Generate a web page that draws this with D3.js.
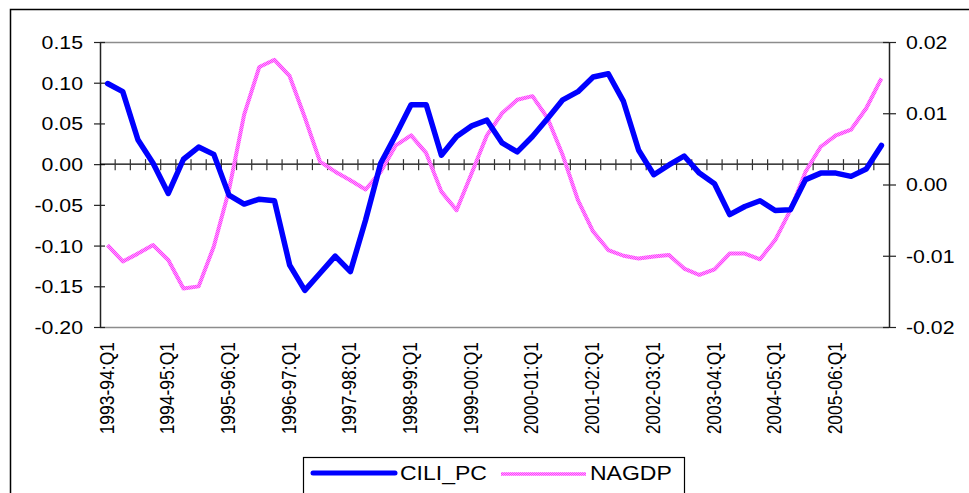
<!DOCTYPE html>
<html><head><meta charset="utf-8">
<script src="https://cdn.jsdelivr.net/npm/d3@7"></script>
<style>
body{margin:0;background:#fff}
svg{display:block}
text{font-family:Arial,"Liberation Sans",sans-serif;fill:#000}
</style>
</head><body>
<svg id="chart" width="969" height="493"></svg>
<script>
// Fiscal years and quarters making up the category axis
const years = ["1993-94","1994-95","1995-96","1996-97","1997-98","1998-99","1999-00",
               "2000-01","2001-02","2002-03","2003-04","2004-05","2005-06"];
const quarters = ["Q1","Q2","Q3","Q4"];
const categories = years.flatMap(y => quarters.map(q => `${y}:${q}`));

// Labelled categories (first quarter of each year)
const xTickLabels = years.map(y => `${y}:Q1`);

// CILI_PC (left axis)
const ciliPc = [0.099, 0.089, 0.030, 0.001, -0.036, 0.006, 0.021, 0.012, -0.038, -0.049,
                -0.043, -0.045, -0.124, -0.155, -0.134, -0.113, -0.132, -0.069, 0.001, 0.036,
                0.073, 0.073, 0.011, 0.034, 0.047, 0.054, 0.026, 0.015, 0.034, 0.056,
                0.079, 0.089, 0.107, 0.111, 0.077, 0.017, -0.013, -0.001, 0.010, -0.011,
                -0.024, -0.062, -0.052, -0.045, -0.057, -0.056, -0.019, -0.011, -0.011, -0.015,
                -0.006, 0.023];

// NAGDP (right axis)
const nagdp = [-0.0085, -0.0108, -0.0097, -0.0085, -0.0106, -0.0146, -0.0143, -0.0087, -0.0008, 0.0098,
               0.0165, 0.0175, 0.0152, 0.0094, 0.0032, 0.0018, 0.0006, -0.0007, 0.0018, 0.0055,
               0.0069, 0.0044, -0.0010, -0.0036, 0.0016, 0.0069, 0.0100, 0.0119, 0.0124, 0.0093,
               0.0041, -0.0022, -0.0066, -0.0092, -0.0100, -0.0104, -0.0101, -0.0099, -0.0118, -0.0127,
               -0.0119, -0.0097, -0.0097, -0.0105, -0.0078, -0.0036, 0.0018, 0.0053, 0.0069, 0.0077,
               0.0107, 0.0149];

const leftTicks = [0.15, 0.10, 0.05, 0.00, -0.05, -0.10, -0.15, -0.20];
const rightTicks = [0.02, 0.01, 0.00, -0.01, -0.02];
const seriesNames = ["CILI_PC", "NAGDP"];

const svg = d3.select("#chart");
const plot = {left: 100, right: 889, top: 42, bottom: 327};
const sx = 1.15; // horizontal text stretch
const fmt = d => d3.format(".2f")(d).replace("\u2212", "-");

const defs = svg.append("defs");
const pat = defs.append("pattern").attr("id", "pinkDither")
  .attr("patternUnits", "userSpaceOnUse").attr("width", 2).attr("height", 2);
pat.append("rect").attr("width", 2).attr("height", 2).attr("fill", "#ffa0ff");
pat.append("rect").attr("width", 1).attr("height", 1).attr("fill", "#ff3cff");
pat.append("rect").attr("x", 1).attr("y", 1).attr("width", 1).attr("height", 1).attr("fill", "#ff3cff");

// Chart frame
svg.append("rect").attr("x", 10.5).attr("y", 9.5).attr("width", 1000).attr("height", 600)
  .attr("fill", "none").attr("stroke", "#000").attr("stroke-width", 1.5);

const x = d3.scaleBand().domain(categories).range([plot.left, plot.right]).padding(0);
const yL = d3.scaleLinear().domain([-0.20, 0.15]).range([plot.bottom, plot.top]);
const yR = d3.scaleLinear().domain([-0.02, 0.02]).range([plot.bottom, plot.top]);
const cx = c => x(c) + x.bandwidth() / 2;

// Plot area border (grey top and bottom)
svg.append("line").attr("x1", plot.left).attr("x2", plot.right).attr("y1", plot.top + 0.5).attr("y2", plot.top + 0.5)
  .attr("stroke", "#8c8c8c").attr("stroke-width", 1.5);
svg.append("line").attr("x1", plot.left).attr("x2", plot.right).attr("y1", plot.bottom + 0.5).attr("y2", plot.bottom + 0.5)
  .attr("stroke", "#8c8c8c").attr("stroke-width", 1.5);

// Left value axis
const leftAxis = d3.axisLeft(yL).tickValues(leftTicks).tickSize(0).tickFormat(fmt);
const gL = svg.append("g").attr("transform", `translate(${plot.left},0)`).call(leftAxis);
gL.select(".domain").attr("stroke", "#222").attr("stroke-width", 1.5);
gL.selectAll(".tick line").remove();
gL.selectAll(".tick").append("line").attr("x1", -6).attr("x2", 5).attr("stroke", "#222").attr("stroke-width", 1.2);
gL.selectAll(".tick text").attr("x", 0).attr("dy", null).attr("dominant-baseline", "central")
  .attr("text-anchor", "end").attr("font-size", 18.5)
  .attr("transform", `translate(-17,0) scale(${sx},1)`);

// Right value axis
const rightAxis = d3.axisRight(yR).tickValues(rightTicks).tickSize(0).tickFormat(fmt);
const gR = svg.append("g").attr("transform", `translate(${plot.right},0)`).call(rightAxis);
gR.select(".domain").attr("stroke", "#222").attr("stroke-width", 1.5);
gR.selectAll(".tick line").remove();
gR.selectAll(".tick").append("line").attr("x1", -6).attr("x2", 7).attr("stroke", "#222").attr("stroke-width", 1.2);
gR.selectAll(".tick text").attr("x", 0).attr("dy", null).attr("dominant-baseline", "central")
  .attr("text-anchor", "start").attr("font-size", 18.5)
  .attr("transform", `translate(17,0) scale(${sx},1)`);
svg.selectAll("g").attr("font-family", null);

// Category axis along zero, with cross ticks at category boundaries
const y0 = yL(0);
svg.append("line").attr("x1", plot.left).attr("x2", plot.right).attr("y1", y0).attr("y2", y0)
  .attr("stroke", "#000").attr("stroke-width", 1.2);
svg.append("g").selectAll("line").data(categories.slice(1)).join("line")
  .attr("x1", d => x(d)).attr("x2", d => x(d))
  .attr("y1", y0 - 5).attr("y2", y0 + 6).attr("stroke", "#333").attr("stroke-width", 1.2);

// Category labels below the plot
svg.append("g").selectAll("text").data(xTickLabels).join("text")
  .attr("transform", d => `translate(${cx(d) + 6},${plot.bottom + 15}) scale(${sx},1) rotate(-90)`)
  .attr("text-anchor", "end").attr("font-size", 17.5).text(d => d);

// Series lines
const lineL = d3.line().x((d, i) => cx(categories[i])).y(d => yL(d));
const lineR = d3.line().x((d, i) => cx(categories[i])).y(d => yR(d));

svg.append("path").datum(nagdp).attr("d", lineR)
  .attr("fill", "none").attr("stroke", "url(#pinkDither)").attr("stroke-width", 4)
  .attr("stroke-linejoin", "round");
svg.append("path").datum(ciliPc).attr("d", lineL)
  .attr("fill", "none").attr("stroke", "#0000ff").attr("stroke-width", 5.5)
  .attr("stroke-linejoin", "round").attr("stroke-linecap", "round");

// Legend
const lg = svg.append("g");
lg.append("rect").attr("x", 303.5).attr("y", 457.5).attr("width", 381).attr("height", 60)
  .attr("fill", "#fff").attr("stroke", "#000").attr("stroke-width", 1.2);
lg.append("line").attr("x1", 313).attr("x2", 395).attr("y1", 473).attr("y2", 473)
  .attr("stroke", "#0000ff").attr("stroke-width", 5).attr("stroke-linecap", "round");
lg.append("text").attr("transform", `translate(400,473) scale(${sx},1)`)
  .attr("dominant-baseline", "central").attr("font-size", 20).text(seriesNames[0]);
lg.append("line").attr("x1", 501).attr("x2", 586).attr("y1", 474).attr("y2", 474)
  .attr("stroke", "url(#pinkDither)").attr("stroke-width", 3.5);
lg.append("text").attr("transform", `translate(590,473) scale(${sx},1)`)
  .attr("dominant-baseline", "central").attr("font-size", 20).text(seriesNames[1]);
</script>
</body></html>
